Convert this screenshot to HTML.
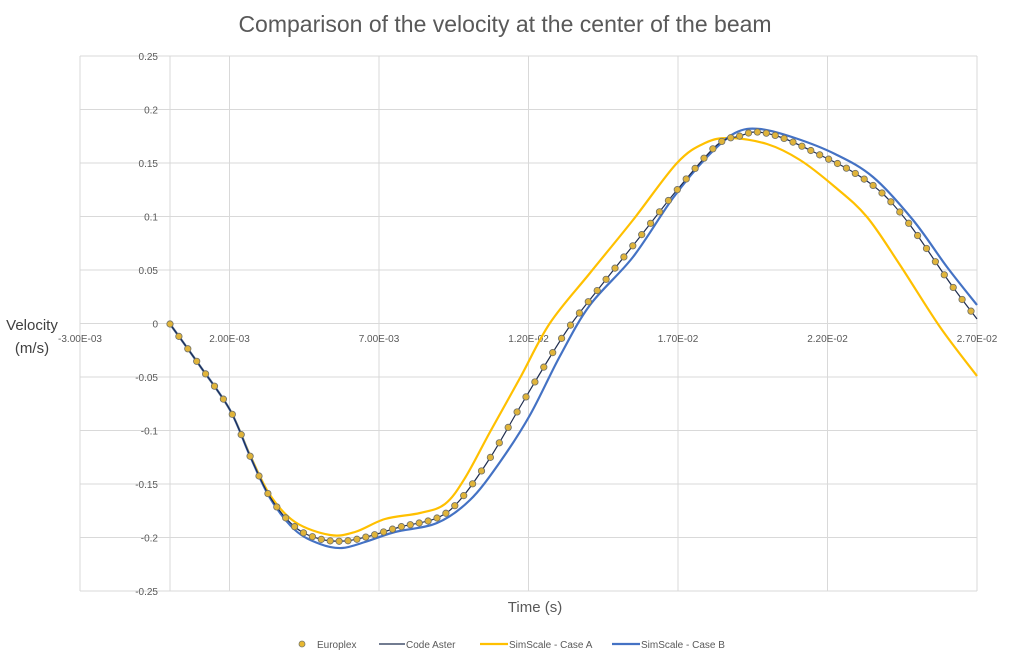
<!DOCTYPE html>
<html><head><meta charset="utf-8"><style>
body{margin:0;background:#fff;}
svg{display:block;font-family:"Liberation Sans",sans-serif;}
</style></head><body>
<svg id="s" width="1010" height="660" xmlns="http://www.w3.org/2000/svg">
<rect width="1010" height="660" fill="#fff"/>
<text x="505" y="32" text-anchor="middle" font-size="23" fill="#595959">Comparison of the velocity at the center of the beam</text>
<g id="grid" stroke="#d9d9d9" stroke-width="1"></g>
<g id="lab" font-size="10" fill="#595959"></g>
<text x="32" y="330" text-anchor="middle" font-size="15" fill="#404040">Velocity</text>
<text x="32" y="353" text-anchor="middle" font-size="15" fill="#404040">(m/s)</text>
<text x="535" y="612" text-anchor="middle" font-size="15" fill="#595959">Time (s)</text>
<g id="series"></g>
<g font-size="10" fill="#595959">
<circle cx="302" cy="644" r="3" fill="#e8b830" stroke="#7a7a6a" stroke-width="0.8"/>
<text x="317" y="648">Europlex</text>
<line x1="379" y1="644" x2="405" y2="644" stroke="#1f2d4f" stroke-width="1.3"/>
<text x="406" y="648">Code Aster</text>
<line x1="480" y1="644" x2="508" y2="644" stroke="#ffc000" stroke-width="2.2"/>
<text x="509" y="648">SimScale - Case A</text>
<line x1="612" y1="644" x2="640" y2="644" stroke="#4472c4" stroke-width="2.2"/>
<text x="641" y="648">SimScale - Case B</text>
</g>
</svg>
<script>
var NS="http://www.w3.org/2000/svg";
function el(p,t,a){var e=document.createElementNS(NS,t);for(var k in a)e.setAttribute(k,a[k]);p.appendChild(e);return e;}
var g=document.getElementById('grid'),lab=document.getElementById('lab');
var X0=80,X1=977,Y0=56,Y1=591;
for(var i=0;i<=10;i++){var y=Y0+i*53.5;el(g,'line',{x1:X0,x2:X1,y1:y,y2:y});
 var v=(0.25-i*0.05);var s=Math.abs(v)<1e-9?'0':(+v.toFixed(2)).toString();
 var t=el(lab,'text',{x:158,y:y+4,'text-anchor':'end'});t.textContent=s;}
var xl=['-3.00E-03','2.00E-03','7.00E-03','1.20E-02','1.70E-02','2.20E-02','2.70E-02'];
for(var i=0;i<=6;i++){var x=X0+i*149.5;el(g,'line',{x1:x,x2:x,y1:Y0,y2:Y1});
 var t=el(lab,'text',{x:x,y:342,'text-anchor':'middle'});t.textContent=xl[i];}
el(g,'line',{x1:170,x2:170,y1:Y0,y2:Y1});
function path(p){var d='M'+p[0][0]+','+p[0][1];
 for(var i=0;i<p.length-1;i++){var a=p[Math.max(i-1,0)],b=p[i],c=p[i+1],e=p[Math.min(i+2,p.length-1)];
 d+=' C'+(b[0]+(c[0]-a[0])/6)+','+(b[1]+(c[1]-a[1])/6)+' '+(c[0]-(e[0]-b[0])/6)+','+(c[1]-(e[1]-b[1])/6)+' '+c[0]+','+c[1];}
 return d;}
var S=document.getElementById('series');
var A=[[170,324],[200,366],[230,410],[250,455],[270,495],[295,522],[330,535],[355,532],[385,519],[420,513],[445,504],[465,478],[490,432],[520,378],[550,323],[590,273],[633,220],[677,163],[705,143],[730,138],[767,144],[800,160],[835,187],[867,217],[900,265],[940,327],[977,376]];
var B=[[170,324],[200,366],[230,410],[250,456],[270,498],[295,530],[320,544],[342,548],[365,542],[395,532],[437,523],[470,500],[500,462],[530,415],[560,356],[590,305],[633,257],[673,198],[707,157],[735,133],[760,129],[795,138],[835,154],[873,177],[913,220],[947,267],[977,305]];
var C=[[170,324],[200,366],[230,410],[250,456],[270,497],[295,527],[320,539],[345,541],[370,536],[400,527],[437,518],[460,500],[490,458],[520,407],[550,357],[572,323],[600,287],[643,233],[677,190],[717,145],[740,136],[757,132],[783,138],[820,155],[853,172],[882,193],[910,225],[950,283],[977,319]];
el(S,'path',{d:path(A),fill:'none',stroke:'#ffc000','stroke-width':2.2});
el(S,'path',{d:path(B),fill:'none',stroke:'#4472c4','stroke-width':2.2});
var pc=el(S,'path',{d:path(C),fill:'none',stroke:'#1f2d4f','stroke-width':1.2});
var L=pc.getTotalLength(),pts=[];
for(var i=0;i<=2000;i++)pts.push(pc.getPointAtLength(L*i/2000));
var j=0;
for(var x=170;x<=976;x+=8.9){while(j<pts.length-1&&pts[j+1].x<x)j++;
 var p=pts[j],q=pts[Math.min(j+1,pts.length-1)],f=q.x>p.x?(x-p.x)/(q.x-p.x):0;
 el(S,'circle',{cx:x,cy:p.y+(q.y-p.y)*f,r:3.2,fill:'#e0b43a',stroke:'#6f6f66','stroke-width':0.8});}
</script>
</body></html>
